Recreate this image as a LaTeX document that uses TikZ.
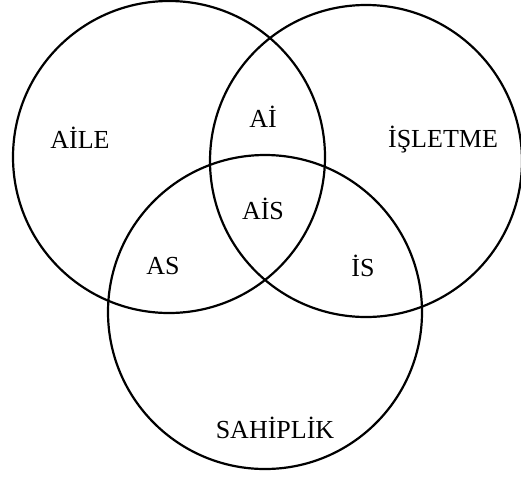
\documentclass[tikz,border=0pt]{standalone}
\usepackage{fontspec}
\setmainfont{Liberation Serif}
\begin{document}
\begin{tikzpicture}[x=1pt,y=-1pt,
  ring/.style={circle,draw=black,line width=2.2pt,inner sep=0pt},
  lbl/.style={font=\fontsize{26}{29}\selectfont,inner sep=0pt}]
\useasboundingbox (0,0) rectangle (521,477);
% the three overlapping sets
\node[ring,minimum size=312pt] (aile) at (169,157) {};
\node[ring,minimum size=312pt] (isletme) at (366,161) {};
\node[ring,minimum size=314pt] (sahiplik) at (265,312) {};
% set names and overlap labels
\node[lbl] (tA) at (80,138) {AİLE};
\node[lbl] (tI) at (443,140) {İŞLETME};
\node[lbl] (tS) at (275,428) {SAHİPLİK};
\node[lbl] (tAI) at (263,117) {Aİ};
\node[lbl] (tAIS) at (263,209) {AİS};
\node[lbl] (tAS) at (163,266) {AS};
\node[lbl] (tIS) at (363,266) {İS};
\end{tikzpicture}
\end{document}
